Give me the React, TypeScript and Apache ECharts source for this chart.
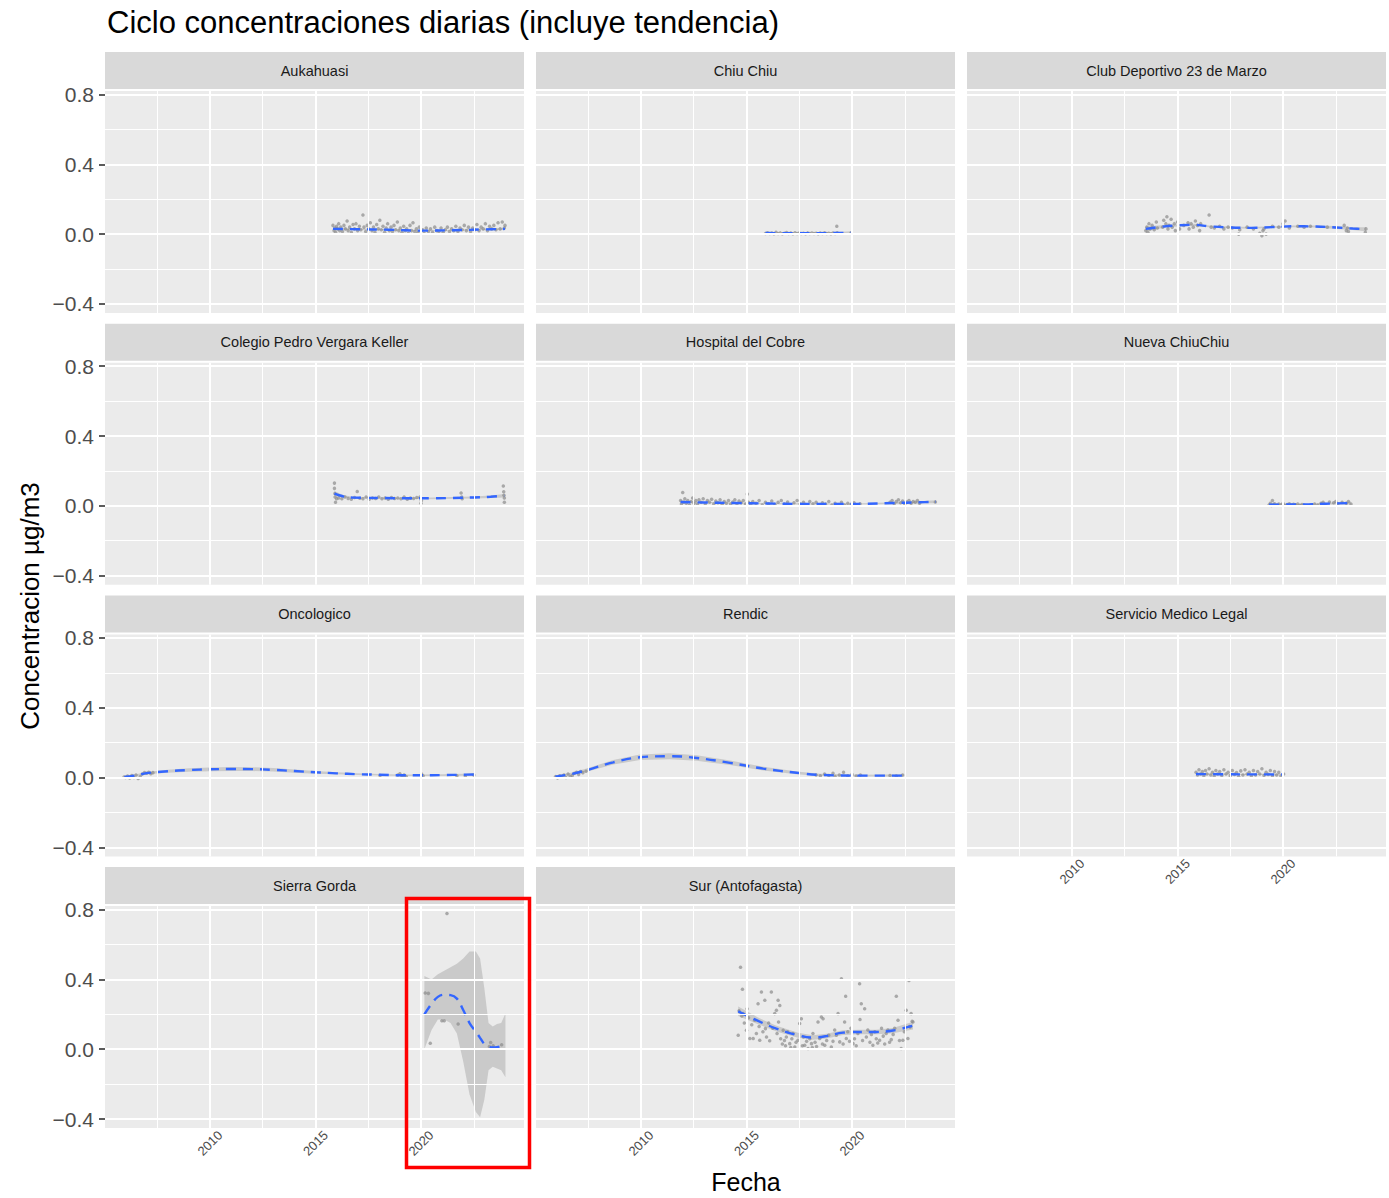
import React, { useEffect, useRef } from 'react';
import * as echarts from 'echarts';

const FONT = '"Liberation Sans", Arial, sans-serif';

const chartTitle = 'Ciclo concentraciones diarias (incluye tendencia)';
const yAxisTitle = 'Concentracion µg/m3';
const xAxisTitle = 'Fecha';

const stationNames = [
  'Aukahuasi', 'Chiu Chiu', 'Club Deportivo 23 de Marzo',
  'Colegio Pedro Vergara Keller', 'Hospital del Cobre', 'Nueva ChiuChiu',
  'Oncologico', 'Rendic', 'Servicio Medico Legal',
  'Sierra Gorda', 'Sur (Antofagasta)',
];

const xRange = [2005.03, 2024.88];
const yRange = [-0.452, 0.82];
const xMajorTicks = [2010, 2015, 2020];
const xMinorTicks = [2007.5, 2012.5, 2017.5, 2022.5];
const yMajorTicks = [-0.4, 0, 0.4, 0.8];
const yMinorTicks = [-0.2, 0.2, 0.6];

// points: [year, value]; trends: [year, fit, lower, upper]
const aukahuasiPoints = [[2015.83,0.05],[2015.88,0.02],[2015.92,0.035],[2015.96,0.01],[2016.0,0.045],[2016.05,0.03],[2016.1,0.06],[2016.15,0.02],[2016.2,0.04],[2016.28,0.015],[2016.35,0.05],[2016.42,0.03],[2016.5,0.075],[2016.55,0.02],[2016.62,0.04],[2016.7,0.01],[2016.78,0.055],[2016.85,0.03],[2016.92,0.06],[2017.0,0.02],[2017.08,0.045],[2017.15,0.025],[2017.25,0.11],[2017.3,0.04],[2017.38,0.015],[2017.45,0.05],[2017.52,0.03],[2017.6,0.065],[2017.68,0.02],[2017.75,0.04],[2017.82,0.01],[2017.9,0.055],[2017.98,0.03],[2018.05,0.08],[2018.12,0.025],[2018.2,0.045],[2018.28,0.01],[2018.35,0.035],[2018.42,0.06],[2018.5,0.02],[2018.58,0.04],[2018.65,0.015],[2018.72,0.05],[2018.8,0.025],[2018.88,0.07],[2018.95,0.02],[2019.02,0.035],[2019.1,0.01],[2019.18,0.045],[2019.25,0.02],[2019.32,0.03],[2019.4,0.005],[2019.48,0.05],[2019.55,0.02],[2019.62,0.065],[2019.7,0.015],[2019.78,0.03],[2019.85,0.01],[2019.92,0.04],[2020.0,0.02],[2020.08,0.025],[2020.15,0.005],[2020.25,0.035],[2020.35,0.015],[2020.45,0.03],[2020.55,0.01],[2020.65,0.04],[2020.75,0.02],[2020.85,0.015],[2020.95,0.035],[2021.05,0.01],[2021.15,0.025],[2021.25,0.04],[2021.35,0.015],[2021.45,0.03],[2021.55,0.02],[2021.65,0.045],[2021.75,0.015],[2021.85,0.035],[2021.95,0.025],[2022.05,0.05],[2022.15,0.02],[2022.25,0.04],[2022.35,0.015],[2022.45,0.035],[2022.55,0.025],[2022.65,0.055],[2022.75,0.02],[2022.85,0.04],[2022.95,0.03],[2023.05,0.06],[2023.15,0.02],[2023.25,0.045],[2023.35,0.03],[2023.45,0.05],[2023.55,0.025],[2023.65,0.065],[2023.75,0.03],[2023.85,0.07],[2023.95,0.035],[2023.98,0.05]];
const aukahuasiTrend = [[2015.83,0.03,0.022,0.038],[2017,0.028,0.024,0.032],[2018.5,0.025,0.022,0.028],[2020,0.02,0.017,0.023],[2021.5,0.022,0.019,0.025],[2023,0.027,0.023,0.031],[2023.98,0.03,0.024,0.036]];

const chiuChiuPoints = [[2015.9,0.004],[2016.0,0.008],[2016.1,0.003],[2016.2,0.006],[2016.3,0.002],[2016.4,0.01],[2016.5,0.004],[2016.6,0.007],[2016.7,0.002],[2016.8,0.005],[2016.9,0.009],[2017.0,0.003],[2017.1,0.006],[2017.2,0.002],[2017.3,0.008],[2017.4,0.004],[2017.5,0.006],[2017.6,0.003],[2017.7,0.005],[2017.8,0.002],[2017.9,0.007],[2018.0,0.004],[2018.1,0.006],[2018.2,0.003],[2018.3,0.005],[2018.4,0.002],[2018.5,0.006],[2018.6,0.004],[2018.7,0.008],[2018.8,0.003],[2018.9,0.005],[2019.0,0.002],[2019.1,0.006],[2019.2,0.004],[2019.28,0.045],[2019.3,0.008],[2019.95,0.006]];
const chiuChiuTrend = [[2015.9,0.006,0.003,0.009],[2017,0.005,0.003,0.007],[2018,0.005,0.003,0.007],[2019,0.006,0.003,0.009],[2019.95,0.008,0.0,0.016]];

const clubDeportivoPoints = [[2013.5,0.02],[2013.55,0.04],[2013.6,0.01],[2013.65,0.06],[2013.7,0.03],[2013.8,0.05],[2013.9,0.025],[2014.0,0.07],[2014.05,0.035],[2014.3,0.04],[2014.35,0.08],[2014.45,0.06],[2014.5,0.1],[2014.55,0.03],[2014.6,0.05],[2014.7,0.085],[2014.75,0.04],[2014.85,0.06],[2014.9,0.02],[2015.0,0.07],[2015.1,0.03],[2015.3,0.05],[2015.5,0.065],[2015.55,0.03],[2015.65,0.06],[2015.75,0.04],[2015.85,0.075],[2015.95,0.05],[2016.05,0.02],[2016.1,0.06],[2016.5,0.11],[2016.6,0.04],[2016.75,0.035],[2017.0,0.045],[2017.2,0.03],[2017.4,0.04],[2017.6,0.035],[2017.9,0.0],[2017.95,0.025],[2018.3,0.04],[2018.6,0.03],[2018.9,0.005],[2019.0,-0.01],[2019.05,0.02],[2019.1,0.03],[2019.2,0.0],[2019.5,0.045],[2019.8,0.04],[2020.0,0.06],[2020.1,0.075],[2020.3,0.035],[2020.7,0.045],[2021.0,0.04],[2021.3,0.045],[2022.1,0.04],[2022.9,0.05],[2023.0,0.02],[2023.05,0.035],[2023.1,0.015],[2023.9,0.01],[2023.93,0.03]];
const clubDeportivoTrend = [[2013.5,0.03,0.015,0.045],[2014.3,0.043,0.035,0.051],[2015,0.05,0.044,0.056],[2015.8,0.053,0.047,0.059],[2016.5,0.045,0.04,0.05],[2017.5,0.038,0.033,0.043],[2018.5,0.036,0.031,0.041],[2019.5,0.04,0.035,0.045],[2020.5,0.045,0.04,0.05],[2021.5,0.044,0.038,0.05],[2022.5,0.038,0.03,0.046],[2023.3,0.032,0.024,0.04],[2023.93,0.028,0.016,0.04]];

const colegioPoints = [[2015.9,0.13],[2015.9,0.1],[2015.92,0.07],[2015.93,0.05],[2015.95,0.02],[2016.0,0.04],[2016.1,0.045],[2016.25,0.04],[2016.4,0.05],[2016.55,0.042],[2016.7,0.038],[2016.85,0.048],[2016.98,0.082],[2017.1,0.043],[2017.25,0.04],[2017.4,0.05],[2017.55,0.038],[2017.7,0.045],[2017.85,0.042],[2018.0,0.05],[2018.15,0.04],[2018.3,0.045],[2018.45,0.038],[2018.6,0.048],[2018.75,0.042],[2018.9,0.045],[2019.05,0.04],[2019.2,0.05],[2019.35,0.038],[2019.5,0.044],[2019.65,0.042],[2019.8,0.048],[2019.95,0.05],[2020.0,0.015],[2020.02,0.03],[2021.9,0.073],[2021.93,0.05],[2021.95,0.04],[2023.9,0.114],[2023.92,0.08],[2023.93,0.06],[2023.95,0.045],[2023.95,0.02]];
const colegioTrend = [[2015.9,0.07,0.055,0.085],[2016.3,0.055,0.048,0.062],[2016.8,0.047,0.043,0.051],[2018,0.045,0.042,0.048],[2019.5,0.043,0.04,0.046],[2020.5,0.043,0.038,0.048],[2021.5,0.045,0.04,0.05],[2022.5,0.048,0.042,0.054],[2023.3,0.052,0.045,0.059],[2023.95,0.058,0.048,0.068]];

const hospitalPoints = [[2011.88,0.03],[2011.92,0.01],[2011.98,0.076],[2012.02,0.02],[2012.08,0.04],[2012.15,0.015],[2012.22,0.03],[2012.3,0.005],[2012.38,0.025],[2012.45,0.045],[2012.52,0.015],[2012.6,0.03],[2012.68,0.01],[2012.75,0.035],[2012.85,0.02],[2012.95,0.04],[2013.05,0.012],[2013.15,0.03],[2013.25,0.02],[2013.35,0.038],[2013.45,0.01],[2013.55,0.028],[2013.65,0.018],[2013.75,0.035],[2013.85,0.008],[2013.95,0.025],[2014.05,0.015],[2014.15,0.03],[2014.25,0.01],[2014.35,0.022],[2014.45,0.035],[2014.55,0.012],[2014.65,0.028],[2014.75,0.018],[2014.85,0.03],[2014.95,0.01],[2015.04,0.067],[2015.1,0.02],[2015.2,0.008],[2015.3,0.025],[2015.45,0.015],[2015.6,0.03],[2015.75,0.005],[2015.9,0.02],[2016.05,0.012],[2016.2,0.028],[2016.35,0.008],[2016.5,0.02],[2016.65,0.03],[2016.8,0.01],[2016.95,0.022],[2017.1,0.005],[2017.25,0.018],[2017.4,0.03],[2017.55,0.01],[2017.7,0.02],[2017.85,0.005],[2018.0,0.025],[2018.15,0.012],[2018.3,0.02],[2018.45,0.003],[2018.6,0.018],[2018.75,0.01],[2018.9,0.025],[2019.05,0.005],[2019.2,0.015],[2019.35,0.008],[2019.5,0.02],[2019.65,0.004],[2019.8,0.015],[2019.95,0.008],[2020.1,0.018],[2020.25,0.005],[2020.38,0.012],[2021.8,0.02],[2021.9,0.03],[2022.0,0.012],[2022.1,0.025],[2022.2,0.035],[2022.3,0.018],[2022.4,0.028],[2022.5,0.01],[2022.6,0.022],[2022.7,0.03],[2022.8,0.015],[2022.9,0.025],[2023.0,0.02],[2023.1,0.03],[2023.2,0.015],[2023.95,0.022]];
const hospitalTrend = [[2011.88,0.022,0.014,0.03],[2013,0.019,0.016,0.022],[2014.5,0.016,0.013,0.019],[2016,0.013,0.01,0.016],[2017.5,0.011,0.008,0.014],[2019,0.01,0.007,0.013],[2020.5,0.011,0.007,0.015],[2022,0.016,0.011,0.021],[2023.2,0.02,0.014,0.026],[2023.98,0.023,0.014,0.032]];

const nuevaChiuChiuPoints = [[2019.34,0.005],[2019.4,0.015],[2019.45,0.002],[2019.5,0.03],[2019.55,0.008],[2019.6,0.012],[2019.7,0.004],[2019.8,0.01],[2019.9,0.006],[2020.0,0.015],[2020.1,0.003],[2020.2,0.008],[2020.3,0.012],[2020.4,0.004],[2020.5,0.009],[2020.6,0.006],[2020.7,0.011],[2020.8,0.003],[2020.9,0.008],[2021.0,0.005],[2021.35,0.006],[2021.5,0.01],[2021.65,0.004],[2021.8,0.015],[2021.9,0.02],[2022.0,0.008],[2022.2,0.022],[2022.4,0.018],[2022.5,0.025],[2022.6,0.012],[2022.8,0.02],[2023.0,0.015],[2023.1,0.025],[2023.22,0.01]];
const nuevaChiuChiuTrend = [[2019.34,0.006,0.0,0.012],[2020,0.007,0.004,0.01],[2021,0.008,0.005,0.011],[2022,0.012,0.008,0.016],[2023.22,0.016,0.008,0.024]];

const oncologicoPoints = [[2005.93,0.003],[2006.0,0.0],[2006.1,0.008],[2006.2,-0.003],[2006.3,0.012],[2006.4,0.0],[2006.5,0.015],[2006.6,-0.006],[2006.7,0.005],[2006.8,0.02],[2006.9,0.028],[2007.0,0.025],[2007.1,0.03],[2007.2,0.022],[2007.3,0.028],[2018.06,0.012],[2018.9,0.015],[2019.0,0.022],[2019.1,0.008],[2019.2,0.014],[2019.3,0.005],[2020.03,0.02],[2020.1,0.01],[2021.7,0.01],[2022.1,0.008],[2022.5,0.014]];
const oncologicoTrend = [[2005.95,0.003,-0.005,0.011],[2006.5,0.012,0.006,0.018],[2007,0.025,0.019,0.031],[2008,0.036,0.028,0.044],[2009,0.043,0.033,0.053],[2010,0.047,0.036,0.058],[2011,0.049,0.038,0.06],[2012,0.048,0.037,0.059],[2013,0.044,0.034,0.054],[2014,0.037,0.028,0.046],[2015,0.03,0.022,0.038],[2016,0.024,0.018,0.03],[2017,0.019,0.014,0.024],[2018,0.016,0.012,0.02],[2019,0.013,0.009,0.017],[2020,0.013,0.009,0.017],[2021,0.014,0.009,0.019],[2022,0.016,0.01,0.022],[2022.5,0.017,0.01,0.024]];

const rendicPoints = [[2005.95,0.005],[2006.05,-0.002],[2006.15,0.01],[2006.25,0.002],[2006.35,0.015],[2006.45,0.0],[2006.55,0.02],[2006.65,0.006],[2006.75,0.012],[2006.85,0.025],[2006.95,0.03],[2007.05,0.018],[2007.15,0.035],[2007.25,0.028],[2007.4,0.036],[2018.3,0.015],[2018.5,0.01],[2018.7,0.02],[2018.9,0.012],[2019.1,0.025],[2019.2,0.005],[2019.4,0.015],[2019.6,0.03],[2019.8,0.01],[2020.0,0.018],[2020.2,0.008],[2020.4,0.014],[2021.8,0.012],[2022.1,0.008],[2022.4,0.014]];
const rendicTrend = [[2005.95,0.005,-0.003,0.013],[2006.7,0.02,0.013,0.027],[2007.43,0.042,0.033,0.051],[2008.69,0.087,0.074,0.1],[2009.95,0.116,0.1,0.132],[2011.37,0.122,0.105,0.139],[2012.64,0.112,0.096,0.128],[2014.22,0.084,0.071,0.097],[2015.8,0.051,0.04,0.062],[2017.38,0.027,0.019,0.035],[2018.48,0.015,0.009,0.021],[2020.54,0.011,0.006,0.016],[2022.43,0.011,0.004,0.018]];

const servicioPoints = [[2015.88,0.03],[2015.95,0.015],[2016.02,0.045],[2016.1,0.02],[2016.18,0.035],[2016.25,0.01],[2016.33,0.04],[2016.4,0.02],[2016.5,0.05],[2016.58,0.015],[2016.66,0.03],[2016.74,0.008],[2016.82,0.04],[2016.9,0.02],[2017.0,0.035],[2017.1,0.012],[2017.2,0.045],[2017.3,0.02],[2017.4,0.03],[2017.5,0.01],[2017.6,0.04],[2017.7,0.018],[2017.8,0.028],[2017.9,0.006],[2018.0,0.038],[2018.1,0.015],[2018.2,0.045],[2018.3,0.02],[2018.4,0.03],[2018.5,0.01],[2018.6,0.04],[2018.7,0.015],[2018.8,0.035],[2018.9,0.02],[2019.0,0.05],[2019.1,0.012],[2019.2,0.03],[2019.3,0.018],[2019.4,0.04],[2019.5,0.01],[2019.6,0.035],[2019.7,0.015],[2019.8,0.03],[2019.9,0.008],[2020.03,0.02]];
const servicioTrend = [[2015.88,0.02,0.014,0.026],[2017,0.019,0.016,0.022],[2018,0.018,0.015,0.021],[2019,0.018,0.015,0.021],[2020.03,0.017,0.011,0.023]];

const sierraGordaPoints = [[2020.2,0.322],[2020.35,0.32],[2020.44,0.034],[2020.99,0.163],[2021.1,0.163],[2021.23,0.777],[2021.76,0.144],[2023.24,0.015],[2023.3,0.038],[2023.36,0.005],[2023.42,0.02],[2023.82,0.025]];
const sierraGordaTrend = [[2020.16,0.2,0.0,0.42],[2020.5,0.26,0.11,0.4],[2020.8,0.3,0.17,0.43],[2021.1,0.312,0.17,0.45],[2021.4,0.31,0.15,0.47],[2021.7,0.29,0.09,0.49],[2022.0,0.225,-0.07,0.52],[2022.3,0.15,-0.26,0.56],[2022.6,0.1,-0.36,0.56],[2022.8,0.065,-0.39,0.52],[2023.0,0.03,-0.29,0.35],[2023.2,0.015,-0.12,0.15],[2023.4,0.01,-0.1,0.13],[2023.6,0.012,-0.11,0.145],[2023.8,0.018,-0.12,0.15],[2024.0,0.025,-0.16,0.205]];

const surPoints = [[2014.61,0.08],[2014.65,0.22],[2014.72,0.47],[2014.78,0.19],[2014.81,0.343],[2014.84,0.204],[2014.9,0.15],[2015.0,0.109],[2015.03,0.232],[2015.1,0.18],[2015.16,0.061],[2015.25,0.14],[2015.32,0.061],[2015.39,0.166],[2015.47,0.09],[2015.55,0.261],[2015.6,0.13],[2015.63,0.051],[2015.71,0.328],[2015.78,0.1],[2015.87,0.28],[2015.9,0.118],[2015.95,0.07],[2016.05,0.15],[2016.1,0.048],[2016.18,0.328],[2016.25,0.12],[2016.34,0.204],[2016.42,0.223],[2016.45,0.09],[2016.5,0.28],[2016.52,0.156],[2016.58,0.251],[2016.62,0.06],[2016.7,0.03],[2016.74,0.109],[2016.8,0.05],[2016.85,0.02],[2016.89,0.07],[2016.95,0.1],[2017.05,0.032],[2017.1,0.01],[2017.15,0.06],[2017.21,0.09],[2017.29,0.013],[2017.35,0.04],[2017.44,0.051],[2017.52,0.147],[2017.6,0.175],[2017.65,0.02],[2017.7,0.07],[2017.76,0.023],[2017.85,0.045],[2017.92,0.004],[2018.0,0.06],[2018.08,0.032],[2018.12,0.01],[2018.15,0.09],[2018.25,0.04],[2018.32,0.015],[2018.39,0.156],[2018.47,0.061],[2018.55,0.185],[2018.6,0.03],[2018.63,0.175],[2018.71,0.023],[2018.8,0.05],[2018.9,0.08],[2019.02,0.013],[2019.1,0.045],[2019.18,0.11],[2019.26,0.08],[2019.34,0.204],[2019.42,0.042],[2019.5,0.404],[2019.58,0.03],[2019.65,0.156],[2019.7,0.303],[2019.73,0.061],[2019.8,0.1],[2019.88,0.045],[2019.95,0.12],[2020.05,0.032],[2020.12,0.06],[2020.2,0.02],[2020.28,0.09],[2020.36,0.375],[2020.38,0.17],[2020.44,0.261],[2020.5,0.05],[2020.6,0.232],[2020.68,0.07],[2020.75,0.11],[2020.85,0.04],[2020.92,0.085],[2020.99,0.023],[2021.08,0.1],[2021.15,0.06],[2021.22,0.035],[2021.31,0.051],[2021.4,0.12],[2021.48,0.075],[2021.55,0.03],[2021.62,0.09],[2021.7,0.11],[2021.78,0.04],[2021.86,0.055],[2021.95,0.085],[2022.02,0.12],[2022.1,0.303],[2022.18,0.166],[2022.25,0.05],[2022.33,0.004],[2022.41,0.051],[2022.48,0.1],[2022.57,0.223],[2022.65,0.061],[2022.7,0.394],[2022.73,0.13],[2022.76,0.128],[2022.8,0.204],[2022.85,0.16],[2022.89,0.156]];
const surTrend = [[2014.61,0.217,0.19,0.245],[2015.55,0.162,0.143,0.181],[2016.42,0.118,0.102,0.134],[2017.44,0.08,0.066,0.094],[2018.15,0.067,0.054,0.08],[2018.79,0.075,0.062,0.088],[2019.57,0.095,0.082,0.108],[2020.36,0.099,0.086,0.112],[2021.15,0.099,0.086,0.112],[2021.94,0.107,0.092,0.122],[2022.89,0.135,0.113,0.157]];

const stationPoints = [aukahuasiPoints, chiuChiuPoints, clubDeportivoPoints, colegioPoints, hospitalPoints, nuevaChiuChiuPoints, oncologicoPoints, rendicPoints, servicioPoints, sierraGordaPoints, surPoints];
const stationTrends = [aukahuasiTrend, chiuChiuTrend, clubDeportivoTrend, colegioTrend, hospitalTrend, nuevaChiuChiuTrend, oncologicoTrend, rendicTrend, servicioTrend, sierraGordaTrend, surTrend];

// layout (pixels)
const PANEL_LEFT = 105;
const PANEL_TOP = 91;
const PANEL_W = 419;
const PANEL_H = 222;
const COL_STEP = 431;
const ROW_STEP = 271.7;
const STRIP_H = 37;
const STRIP_GAP = 2;

const fmtY = (v: number) => (v < 0 ? '\u2212' + Math.abs(v).toFixed(1) : v.toFixed(1));

function buildOption() {
  const n = stationNames.length;
  const grids: any[] = [];
  const xAxes: any[] = [];
  const yAxes: any[] = [];
  const series: any[] = [];
  const graphics: any[] = [];

  for (let i = 0; i < n; i++) {
    const col = i % 3;
    const row = Math.floor(i / 3);
    const left = PANEL_LEFT + col * COL_STEP;
    const top = PANEL_TOP + row * ROW_STEP;
    const hasXLabels = i >= n - 3;
    const hasYLabels = col === 0;

    grids.push({
      left, top, width: PANEL_W, height: PANEL_H,
      show: true, backgroundColor: '#EBEBEB', borderWidth: 0,
      containLabel: false, outerBoundsMode: 'none',
    });
    xAxes.push({
      type: 'value', gridIndex: i, min: xRange[0], max: xRange[1],
      axisLine: { show: false }, splitLine: { show: false },
      axisTick: { show: hasXLabels, customValues: xMajorTicks, length: 6, lineStyle: { color: '#333333', width: 1.6 } },
      axisLabel: {
        show: hasXLabels, customValues: xMajorTicks, rotate: 45, align: 'center', verticalAlign: 'middle',
        margin: 15, fontSize: 13, color: '#4D4D4D', fontFamily: FONT,
        formatter: (v: number) => String(Math.round(v)),
      },
    });
    yAxes.push({
      type: 'value', gridIndex: i, min: yRange[0], max: yRange[1],
      axisLine: { show: false }, splitLine: { show: false },
      axisTick: { show: hasYLabels, customValues: yMajorTicks, length: 6, lineStyle: { color: '#333333', width: 1.6 } },
      axisLabel: {
        show: hasYLabels, customValues: yMajorTicks, fontSize: 21, color: '#4D4D4D', fontFamily: FONT,
        margin: 11, formatter: fmtY,
      },
    });

    const gridLines = [
      ...xMinorTicks.map((v) => ({ xAxis: v, lineStyle: { color: '#FFFFFF', width: 1, type: 'solid' } })),
      ...yMinorTicks.map((v) => ({ yAxis: v, lineStyle: { color: '#FFFFFF', width: 1, type: 'solid' } })),
      ...xMajorTicks.map((v) => ({ xAxis: v, lineStyle: { color: '#FFFFFF', width: 2, type: 'solid' } })),
      ...yMajorTicks.map((v) => ({ yAxis: v, lineStyle: { color: '#FFFFFF', width: 2, type: 'solid' } })),
    ];
    series.push({
      type: 'line', xAxisIndex: i, yAxisIndex: i, z: 1, silent: true,
      data: [[xRange[0], yRange[0]]], showSymbol: false, lineStyle: { opacity: 0 },
      markLine: {
        silent: true, symbol: ['none', 'none'], label: { show: false }, animation: false,
        emphasis: { disabled: true }, data: gridLines,
      },
    });

    const trend = stationTrends[i];
    series.push({
      type: 'custom', xAxisIndex: i, yAxisIndex: i, z: 2, silent: true,
      data: [[trend[0][0], trend[0][1]]],
      renderItem: (_params: any, api: any) => {
        const upper = trend.map((t) => api.coord([t[0], t[3]]));
        const lower = trend.slice().reverse().map((t) => api.coord([t[0], t[2]]));
        return {
          type: 'polygon',
          shape: { points: upper.concat(lower) },
          style: { fill: 'rgba(153,153,153,0.4)', stroke: 'none' },
        };
      },
    });
    series.push({
      type: 'scatter', xAxisIndex: i, yAxisIndex: i, z: 3, silent: true,
      data: stationPoints[i], symbolSize: 3.5,
      itemStyle: { color: '#8C8C8C', opacity: 0.7 },
    });
    series.push({
      type: 'line', xAxisIndex: i, yAxisIndex: i, z: 4, silent: true,
      data: trend.map((t) => [t[0], t[1]]), smooth: 0.4, showSymbol: false,
      lineStyle: { color: '#3366FF', width: 2.4, type: [10, 7] },
    });

    graphics.push({
      type: 'rect', shape: { x: left, y: top - STRIP_GAP - STRIP_H, width: PANEL_W, height: STRIP_H },
      style: { fill: '#D9D9D9' }, silent: true,
    });
    graphics.push({
      type: 'text', x: left + PANEL_W / 2, y: top - STRIP_GAP - STRIP_H / 2, silent: true,
      style: {
        text: stationNames[i], fontSize: 14.5, fontFamily: FONT, fill: '#1A1A1A',
        align: 'center', verticalAlign: 'middle', textAlign: 'center', textVerticalAlign: 'middle',
      },
    });
  }

  graphics.push({
    type: 'text', x: 107, y: 22, silent: true,
    style: { text: chartTitle, fontSize: 31, fontFamily: FONT, fill: '#000000', align: 'left', verticalAlign: 'middle', textAlign: 'left', textVerticalAlign: 'middle' },
  });
  graphics.push({
    type: 'text', x: 30, y: 606, rotation: Math.PI / 2, silent: true,
    style: { text: yAxisTitle, fontSize: 26, fontFamily: FONT, fill: '#000000', align: 'center', verticalAlign: 'middle', textAlign: 'center', textVerticalAlign: 'middle' },
  });
  graphics.push({
    type: 'text', x: 746, y: 1182, silent: true,
    style: { text: xAxisTitle, fontSize: 25, fontFamily: FONT, fill: '#000000', align: 'center', verticalAlign: 'middle', textAlign: 'center', textVerticalAlign: 'middle' },
  });
  // red highlight box (annotation)
  graphics.push({
    type: 'rect', z: 100, silent: true,
    shape: { x: 406.5, y: 898.5, width: 123, height: 269 },
    style: { fill: 'none', stroke: '#FF0000', lineWidth: 3.5 },
  });

  return {
    animation: false,
    backgroundColor: '#FFFFFF',
    textStyle: { fontFamily: FONT },
    grid: grids,
    xAxis: xAxes,
    yAxis: yAxes,
    series,
    graphic: { elements: graphics },
  };
}

export default function App() {
  const ref = useRef<HTMLDivElement>(null);
  useEffect(() => {
    if (!ref.current) return;
    const chart = echarts.init(ref.current, undefined, { renderer: 'svg' });
    chart.setOption(buildOption() as any);
    return () => chart.dispose();
  }, []);
  return (
    <div
      ref={ref}
      style={{ position: 'absolute', left: 0, top: 0, width: 1389, height: 1198, background: '#fff' }}
    />
  );
}
